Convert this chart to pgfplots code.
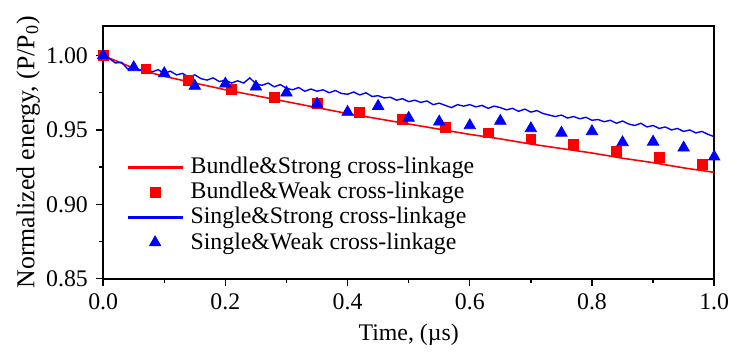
\documentclass[border=0pt]{standalone}
\usepackage{fontspec}
\setmainfont{Liberation Serif}
\usepackage{pgfplots}
\pgfplotsset{compat=1.18}
\pgfplotsset{
  linelegend/.style={legend image code/.code={\fill[fill=#1] (0pt,-0.4pt) rectangle (27pt,0.4pt); \path (29pt,0pt);}},
  marklegend/.style={legend image code/.code={\draw[mark repeat=2,mark phase=2,##1] plot coordinates {(0pt,0pt)(13.5pt,0pt)(27pt,0pt)}; \path (29pt,0pt);}},
}
\begin{document}
\fontsize{12}{14}\selectfont
\begin{tikzpicture}
\begin{axis}[
  scale only axis,
  width=308pt, height=127.5pt,
  xmin=0, xmax=1, ymin=0.85, ymax=1.02,
  xtick={0,0.2,0.4,0.6,0.8,1.0},
  ytick={0.85,0.90,0.95,1.00},
  minor x tick num=1, minor y tick num=1,
  tick align=outside, xtick pos=left, ytick pos=left,
  major tick length=3.5pt, minor tick length=2pt,
  x tick label style={/pgf/number format/.cd, fixed, fixed zerofill, precision=1, assume math mode=true},
  y tick label style={/pgf/number format/.cd, fixed, fixed zerofill, precision=2, assume math mode=true},
  tick label style={font=\fontsize{12}{14}\selectfont},
  xlabel style={font=\fontsize{12}{14}\selectfont},
  ylabel style={font=\fontsize{13}{15}\selectfont},
  ylabel shift=-5pt,
  xlabel shift=-1pt,
  xlabel={Time, (µs)},
  ylabel={Normalized energy, (P/P\textsubscript{0})},
  axis line style={line width=0.8pt},
  every tick/.style={line width=0.7pt, black},
  legend style={draw=none, fill=none, at={(0.036,0.505)}, anchor=north west,
    font=\fontsize{12}{17}\selectfont, row sep=-1.5pt, inner sep=1pt},
  legend cell align=left,
]
\addplot[red, line width=0.8pt, linelegend=red] coordinates {
(0,1.000) (0.05,0.9915) (0.10,0.9860) (0.15,0.9815) (0.20,0.9770) (0.25,0.9730)
(0.30,0.9690) (0.35,0.9650) (0.40,0.9610) (0.45,0.9575) (0.50,0.9540) (0.55,0.9505)
(0.60,0.9470) (0.65,0.9440) (0.70,0.9405) (0.75,0.9375) (0.80,0.9345) (0.85,0.9310)
(0.90,0.9280) (0.95,0.9245) (1.00,0.9215)};
\addlegendentry{Bundle\&Strong cross-linkage}
\addplot[only marks, mark=square*, mark size=2.5pt, red, fill=red, marklegend] coordinates {
(0,1.000) (0.07,0.991) (0.14,0.983) (0.21,0.977) (0.28,0.972) (0.35,0.968) (0.42,0.9615)
(0.49,0.957) (0.56,0.952) (0.63,0.948) (0.70,0.944) (0.77,0.940) (0.84,0.9356)
(0.91,0.9316) (0.98,0.927)};
\addlegendentry{Bundle\&Weak cross-linkage}
\addplot[blue, line width=0.7pt, linelegend=blue] coordinates {
(0.00,1.000) (0.01,0.998) (0.02,0.995) (0.03,0.9955) (0.04,0.991) (0.05,0.9925)
(0.06,0.9900) (0.07,0.9915) (0.08,0.9890) (0.09,0.9905) (0.10,0.9880) (0.11,0.9895)
(0.12,0.9870) (0.13,0.9880) (0.14,0.9855) (0.15,0.9870) (0.16,0.9845) (0.17,0.9835)
(0.18,0.9850) (0.19,0.9825) (0.20,0.9835) (0.21,0.9815) (0.22,0.9830) (0.23,0.9815)
(0.24,0.9850) (0.25,0.9810) (0.26,0.9800) (0.27,0.9815) (0.28,0.9790) (0.29,0.9805)
(0.30,0.9780) (0.31,0.9770) (0.32,0.9785) (0.33,0.9760) (0.34,0.9775) (0.35,0.9760)
(0.36,0.9770) (0.37,0.9750) (0.38,0.9765) (0.39,0.9745) (0.40,0.9740) (0.41,0.9755)
(0.42,0.9735) (0.43,0.9750) (0.44,0.9725) (0.45,0.9730) (0.46,0.9715) (0.47,0.9720)
(0.48,0.9700) (0.49,0.9710) (0.50,0.9690) (0.51,0.9700) (0.52,0.9685) (0.53,0.9695)
(0.54,0.9670) (0.55,0.9680) (0.56,0.9665) (0.57,0.9650) (0.58,0.9670) (0.59,0.9660)
(0.60,0.9670) (0.61,0.9655) (0.62,0.9665) (0.63,0.9645) (0.64,0.9660) (0.65,0.9650)
(0.66,0.9635) (0.67,0.9645) (0.68,0.9625) (0.69,0.9640) (0.70,0.9620) (0.71,0.9630)
(0.72,0.9610) (0.73,0.9600) (0.74,0.9590) (0.75,0.9600) (0.76,0.9580) (0.77,0.9590)
(0.78,0.9575) (0.79,0.9585) (0.80,0.9565) (0.81,0.9570) (0.82,0.9555) (0.83,0.9565)
(0.84,0.9545) (0.85,0.9560) (0.86,0.9540) (0.87,0.9530) (0.88,0.9545) (0.89,0.9520)
(0.90,0.9530) (0.91,0.9510) (0.92,0.9520) (0.93,0.9500) (0.94,0.9510) (0.95,0.9490)
(0.96,0.9500) (0.97,0.9480) (0.98,0.9490) (0.99,0.9470) (1.00,0.9455)};
\addlegendentry{Single\&Strong cross-linkage}
\addplot[only marks, mark=triangle*, mark size=3.3pt, blue, fill=blue, marklegend] coordinates {
(0,1.000) (0.05,0.992) (0.10,0.988) (0.15,0.9795) (0.20,0.981) (0.25,0.979) (0.30,0.975)
(0.35,0.9675) (0.40,0.962) (0.45,0.966) (0.50,0.958) (0.55,0.9555) (0.60,0.953)
(0.65,0.956) (0.70,0.951) (0.75,0.948) (0.80,0.949) (0.85,0.9416) (0.90,0.942)
(0.95,0.938) (1.00,0.932)};
\addlegendentry{Single\&Weak cross-linkage}
\end{axis}
\useasboundingbox (-52pt,-33pt) rectangle (316.5pt,140.5pt);
\end{tikzpicture}
\end{document}
